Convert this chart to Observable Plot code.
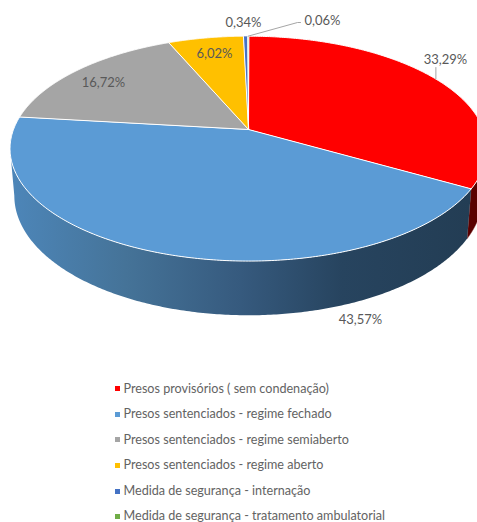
<!DOCTYPE html>
<html>
<head>
<meta charset="utf-8">
<script src="https://cdn.jsdelivr.net/npm/d3@7"></script>
<script src="https://cdn.jsdelivr.net/npm/@observablehq/plot@0.6"></script>
<style>
  html, body { margin: 0; padding: 0; background: #fff; overflow: hidden; width: 477px; height: 522px; }
  svg { display: block; }
  #legend { font: 12.6px Lato, sans-serif; color: #636363; padding: 0 0 0 115px; }
  #legend div { height: 25.6px; white-space: nowrap; display: flex; align-items: center; }
  #legend span { line-height: 1; }
  #legend i { display: inline-block; width: 5px; height: 5px; margin-right: 3.5px; }
</style>
</head>
<body>
<div id="chart"></div>
<div id="legend"></div>
<script>
// --- data ---
const categories = [
  "Presos provisórios ( sem condenação)",
  "Presos sentenciados - regime fechado",
  "Presos sentenciados - regime semiaberto",
  "Presos sentenciados - regime aberto",
  "Medida de segurança - internação",
  "Medida de segurança - tratamento ambulatorial"
];
const shares = [33.29, 43.57, 16.72, 6.02, 0.34, 0.06];
const shareLabels = ["33,29%", "43,57%", "16,72%", "6,02%", "0,34%", "0,06%"];
const colors = ["#ff0000", "#5b9bd5", "#a5a5a5", "#ffc000", "#4472c4", "#70ad47"];

// --- layout (not data) ---
const W = 477, H = 376;
const labelSpots = [[445, 59], [360, 319], [103, 82], [214, 53], [243, 22], [322, 20]];
const top3d = {cx: 248, cy: 129, rx: 235, ry: 109.2, k: -0.17};
const bottom3d = {cx: 248, cy: 175, rx: 235 * 0.982, ry: 116, k: -0.17};
const project = (d, theta, f = 1) => {
  const X = Math.sin(theta) * f, Y = -Math.cos(theta) * f;
  const w = 1 + d.k * Y;
  return [d.cx + d.rx * X / w, d.cy + d.ry * Y / w];
};
const rad = (p) => p * 2 * Math.PI / 100;
const arc = (d, a, b) => d3.range(0, 241).map((i) => project(d, a + (b - a) * i / 240));

// cumulative angles
const ends = d3.cumsum(shares);
const starts = shares.map((_, i) => i ? ends[i - 1] : 0);

// top faces
const topRows = categories.flatMap((c, i) => {
  const centre = [top3d.cx, top3d.cy];
  return [centre, ...arc(top3d, rad(starts[i]), rad(ends[i]))].map(([x, y]) => ({x, y, c}));
});

// side walls: visible portion up to the silhouette of the disc
const silhouette = 2 * Math.PI - Math.acos(top3d.k);
const rightSilhouette = Math.acos(top3d.k);
const wall = (name, a, b) => [...arc(top3d, a, b), ...arc(bottom3d, a, b).reverse()].map(([x, y]) => ({x, y, name}));
const blueWall = wall("blue", rad(starts[1]), silhouette);
const redWall = wall("red", rightSilhouette, rad(ends[0]));

// labels and leader lines
const labelRows = shareLabels.map((t, i) => ({t, x: labelSpots[i][0], y: labelSpots[i][1]}));
const rimA = project(top3d, rad((starts[0] + ends[0]) / 2));
const rimB = project(top3d, rad((starts[5] + ends[5]) / 2));
const leaders = [
  {id: "a", x: rimA[0], y: rimA[1]},
  {id: "a", x: rimA[0], y: labelSpots[0][1] + 8},
  {id: "b", x: rimB[0], y: rimB[1]},
  {id: "b", x: labelSpots[5][0] - 25, y: labelSpots[5][1] + 2},
  {id: "b", x: labelSpots[5][0] - 22, y: labelSpots[5][1] + 2}
];

const chart = Plot.plot({
  width: W, height: H,
  margin: 0,
  x: {domain: [0, W], range: [0, W], axis: null},
  y: {domain: [0, H], range: [0, H], axis: null},
  color: {domain: categories, range: colors},
  style: {fontFamily: "Lato, sans-serif", background: "#fff"},
  marks: [
    Plot.line(redWall, {x: "x", y: "y", curve: "linear-closed", fill: "#5a0000", stroke: "#7a2a2a", strokeWidth: 0.5}),
    Plot.line(blueWall, {x: "x", y: "y", curve: "linear-closed", fill: "url(#wallShade)", stroke: "none"}),
    Plot.line(topRows, {x: "x", y: "y", z: "c", fill: "c", curve: "linear-closed", stroke: "#fff", strokeWidth: 1, strokeLinejoin: "round"}),
    Plot.line(leaders, {x: "x", y: "y", z: "id", stroke: "#a6a6a6", strokeWidth: 1}),
    Plot.text(labelRows, {x: "x", y: "y", text: "t", fill: "#595959", fontSize: 13, textAnchor: "middle", lineAnchor: "middle"})
  ]
});

const defs = d3.select(chart).insert("defs", ":first-child");
const grad = defs.append("linearGradient")
  .attr("id", "wallShade")
  .attr("gradientUnits", "userSpaceOnUse")
  .attr("x1", 10).attr("y1", 0).attr("x2", 470).attr("y2", 0);
[[0, "#4d86b9"], [0.25, "#457398"], [0.5, "#365a7e"], [0.72, "#27445f"], [1, "#233d54"]]
  .forEach(([o, c]) => grad.append("stop").attr("offset", o).attr("stop-color", c));

document.getElementById("chart").append(chart);

const legend = d3.select("#legend");
categories.forEach((c, i) => {
  const row = legend.append("div");
  row.append("i").style("background", colors[i]);
  row.append("span").text(c);
});
</script>
</body>
</html>
